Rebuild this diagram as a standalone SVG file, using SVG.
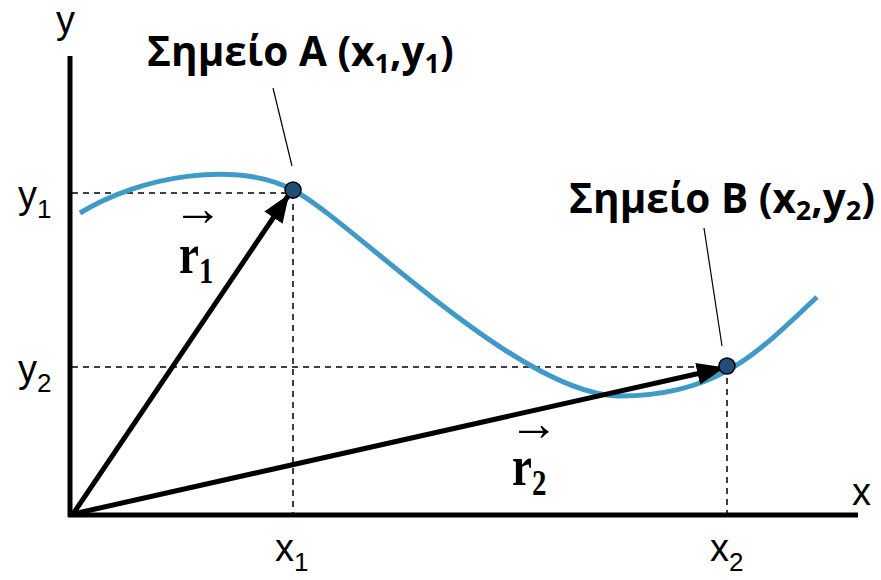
<svg xmlns="http://www.w3.org/2000/svg" width="881" height="580" viewBox="0 0 881 580">
<style>
.ax{stroke:#000;stroke-width:5;fill:none}
.dash{stroke:#000;stroke-width:1.5;stroke-dasharray:6,5;fill:none}
.curve{stroke:#3f9ac7;stroke-width:5;fill:none}
.vec{stroke:#000;stroke-width:5;fill:none;marker-end:url(#ah)}
.lead{stroke:#000;stroke-width:1.2;fill:none}
.pt{fill:#1f4e79;stroke:#000;stroke-width:1.5}
.lbl{font-family:"Liberation Sans",Arial,sans-serif;font-size:38px;fill:#000}
.title{font-family:"Open Sans","Liberation Sans",Arial,sans-serif;font-size:40.5px;font-weight:bold;fill:#000}
.sv{font-family:"Liberation Serif","Times New Roman",serif;font-weight:bold;fill:#000}
.arr{font-family:"Liberation Serif","DejaVu Serif",serif;font-size:50px;fill:#000}
</style>
<defs>
<marker id="ah" markerUnits="userSpaceOnUse" markerWidth="30" markerHeight="24" refX="26" refY="11" orient="auto">
<path d="M0,0 L28,11 L0,22 Z" fill="#000"/>
</marker>
</defs>
<g id="axes">
<line class="ax" x1="70" y1="56" x2="70" y2="517"/>
<line class="ax" x1="68" y1="515" x2="858" y2="515"/>
<text class="lbl" x="56" y="33">y</text>
<text class="lbl" x="852" y="505">x</text>
</g>
<g id="connectors">
<line class="dash" x1="72" y1="193" x2="293" y2="193"/>
<line class="dash" x1="293" y1="193" x2="293" y2="513"/>
<line class="dash" x1="72" y1="367" x2="727" y2="367"/>
<line class="dash" x1="727" y1="367" x2="727" y2="513"/>
<line class="lead" x1="273" y1="88" x2="292" y2="166"/>
<line class="lead" x1="704" y1="228" x2="722" y2="346"/>
</g>
<g id="curve">
<path class="curve" d="M80,213 C140,176 235,160 293,190 S520,396 620,396 S760,350 817,297"/>
</g>
<g id="vectors">
<line class="vec" x1="73" y1="514" x2="288" y2="196"/>
<line class="vec" x1="73" y1="514" x2="723" y2="368"/>
</g>
<g id="pointA">
<circle class="pt" cx="293" cy="190" r="8"/>
<text class="title" x="147" y="66">Σημείο A (x<tspan font-size="27" dy="7">1</tspan><tspan dy="-7">,y</tspan><tspan font-size="27" dy="7">1</tspan><tspan dy="-7">)</tspan></text>
</g>
<g id="pointB">
<circle class="pt" cx="727" cy="366" r="8"/>
<text class="title" x="569" y="213">Σημείο B (x<tspan font-size="27" dy="7">2</tspan><tspan dy="-7">,y</tspan><tspan font-size="27" dy="7">2</tspan><tspan dy="-7">)</tspan></text>
</g>
<g id="labels">
<text class="lbl" x="18" y="208">y<tspan font-size="26" dy="10">1</tspan></text>
<text class="lbl" x="18" y="382">y<tspan font-size="26" dy="10">2</tspan></text>
<text class="lbl" x="275" y="561">x<tspan font-size="26" dy="10">1</tspan></text>
<text class="lbl" x="710" y="561">x<tspan font-size="26" dy="10">2</tspan></text>
</g>
<g id="r1">
<text class="arr" x="173" y="225">→</text>
<text class="sv" transform="translate(179,273) scale(0.8,1)" font-size="56">r<tspan font-size="36" dy="10">1</tspan></text>
</g>
<g id="r2">
<text class="arr" x="509" y="440">→</text>
<text class="sv" transform="translate(512,485) scale(0.8,1)" font-size="56">r<tspan font-size="36" dy="10">2</tspan></text>
</g>
</svg>
